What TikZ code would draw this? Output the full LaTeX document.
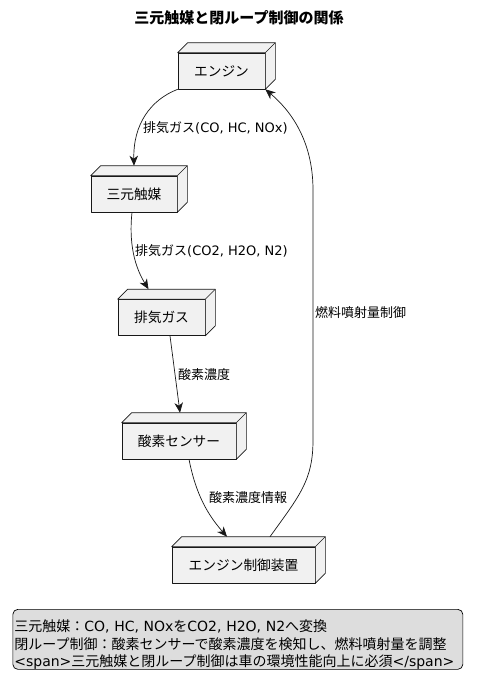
\documentclass[tikz,border=0pt]{standalone}
\usepackage{fontspec}
\setmainfont{Noto Sans CJK JP}
\newfontfamily\latinfont{DejaVu Sans}
\usetikzlibrary{calc}
\usetikzlibrary{arrows.meta}
\definecolor{nodefill}{HTML}{F1F1F1}
\definecolor{nodeline}{HTML}{181818}
\definecolor{legendfill}{HTML}{DDDDDD}
\newcommand{\boxdepth}{10pt}
\newcommand{\boxfontsize}{\fontsize{13.7}{16}\selectfont}
\newcommand{\lblfontsize}{\fontsize{13}{15}\selectfont}
\newcommand{\legendfontsize}{\fontsize{14}{17.5}\selectfont}
\newcommand{\titlefontsize}{\fontsize{15}{18}\selectfont}
\newcommand{\latintext}[1]{{\latinfont #1}}
\newcommand{\depthfaces}[1]{
  \filldraw[boxline] (#1.north west) -- ++(\boxdepth,\boxdepth)
    -- ($(#1.north east)+(\boxdepth,\boxdepth)$)
    -- ($(#1.south east)+(\boxdepth,\boxdepth)$)
    -- (#1.south east) -- (#1.north east) -- cycle;
  \draw[boxline] (#1.north east) -- ++(\boxdepth,\boxdepth);
}
\tikzset{
  boxline/.style={draw=nodeline, fill=nodefill, line width=0.6pt, line join=round},
  nodebox/.style={boxline, rectangle, inner sep=0pt, minimum height=36pt, font=\boxfontsize},
  flowline/.style={draw=nodeline, line width=0.7pt, -{Stealth[length=10pt,width=8.5pt,inset=3pt]}},
  flowlabel/.style={anchor=west, inner sep=0pt, font=\lblfontsize},
  legendbox/.style={draw=black, fill=legendfill, line width=0.7pt, rounded corners=5pt,
    anchor=north west, align=left, text width=447pt, inner xsep=1.5pt, inner ysep=0pt,
    text height=17.4pt, text depth=32.6pt, minimum height=60pt, font=\legendfontsize},
}
\begin{document}
\begin{tikzpicture}[x=1pt,y=-1pt]
    \useasboundingbox (0,0) rectangle (481,688);
    % title
    \node[font=\bfseries\titlefontsize] (title) at (239,18) {三元触媒と閉ループ制御の関係};
    % boxes
    \node[nodebox, minimum width=87pt] (engine) at (221.5,71) {エンジン};
    \node[nodebox, minimum width=86pt] (catalyst) at (134,194) {三元触媒};
    \node[nodebox, minimum width=87pt] (exhaust) at (161.5,317.5) {排気ガス};
    \node[nodebox, minimum width=114pt] (sensor) at (179,441) {酸素センサー};
    \node[nodebox, minimum width=143pt] (ecu) at (243.5,565) {エンジン制御装置};
    \depthfaces{engine}
    \depthfaces{catalyst}
    \depthfaces{exhaust}
    \depthfaces{sensor}
    \depthfaces{ecu}
    % gas flow
    \draw[flowline] (engine.south west)
      .. controls (150,100) and (133,125) .. ([yshift=10pt]catalyst.north);
    \node[flowlabel] (gaslbl) at (143,128) {排気ガス\latintext{(CO, HC, NOx)}};
    \draw[flowline] ([xshift=-2pt]catalyst.south)
      .. controls (128,250) and (138,272) .. ([xshift=-13pt,yshift=10pt]exhaust.north);
    \node[flowlabel] (cleanlbl) at (135,251) {排気ガス\latintext{(CO2, H2O, N2)}};
    \draw[flowline] ([xshift=8.5pt]exhaust.south) -- ([xshift=1pt,yshift=10pt]sensor.north);
    \node[flowlabel] (oxylbl) at (178,375) {酸素濃度};
    % control loop
    \draw[flowline] ([xshift=10pt]sensor.south)
      .. controls (196,495) and (208,515) .. ([xshift=-16.5pt,yshift=10pt]ecu.north);
    \node[flowlabel] (infolbl) at (209,498) {酸素濃度情報};
    \draw[flowline] ([xshift=26.5pt,yshift=10pt]ecu.north)
      .. controls (300,495) and (313,480) .. (313,440) -- (313,190)
      .. controls (313,140) and (290,110) .. (engine.south east);
    \node[flowlabel] (fuellbl) at (315,313) {燃料噴射量制御};
    % legend
    \node[legendbox] (legend) at (12.5,609) {三元触媒：\latintext{CO, HC, NOx}を\latintext{CO2, H2O, N2}へ変換\\
      閉ループ制御：酸素センサーで酸素濃度を検知し、燃料噴射量を調整\\
      \latintext{<span>}三元触媒と閉ループ制御は車の環境性能向上に必須\latintext{</span>}};
\end{tikzpicture}
\end{document}
